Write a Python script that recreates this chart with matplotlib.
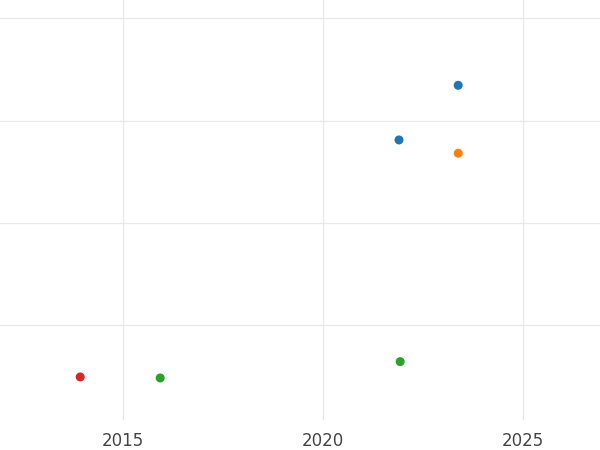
import matplotlib
matplotlib.use('Agg')
import matplotlib.pyplot as plt

years = [2023.38, 2021.9, 2023.38, 2021.93, 2015.93, 2013.93]
values = [3.345, 2.81, 2.68, 0.64, 0.48, 0.49]
colors = ['#1f77b4', '#1f77b4', '#ff7f0e', '#2ca02c', '#2ca02c', '#d62728']

fig = plt.figure(figsize=(6, 4.5), dpi=100)
ax = fig.add_axes([0, 0.067, 1, 0.933])
ax.scatter(years, values, c=colors, s=30, zorder=3)

ax.set_xlim(2011.925, 2026.925)
ax.set_ylim(0.07, 4.18)
ax.set_xticks([2015, 2020, 2025])
ax.set_yticks([1, 2, 3, 4])
ax.set_yticklabels([])
ax.tick_params(axis='both', length=0, labelsize=12, colors='#444444')
ax.tick_params(axis='x', pad=9)
ax.grid(True, color='#e8e8e8', linewidth=0.9)
for s in ax.spines.values():
    s.set_visible(False)

fig.savefig('out.png', dpi=100)
